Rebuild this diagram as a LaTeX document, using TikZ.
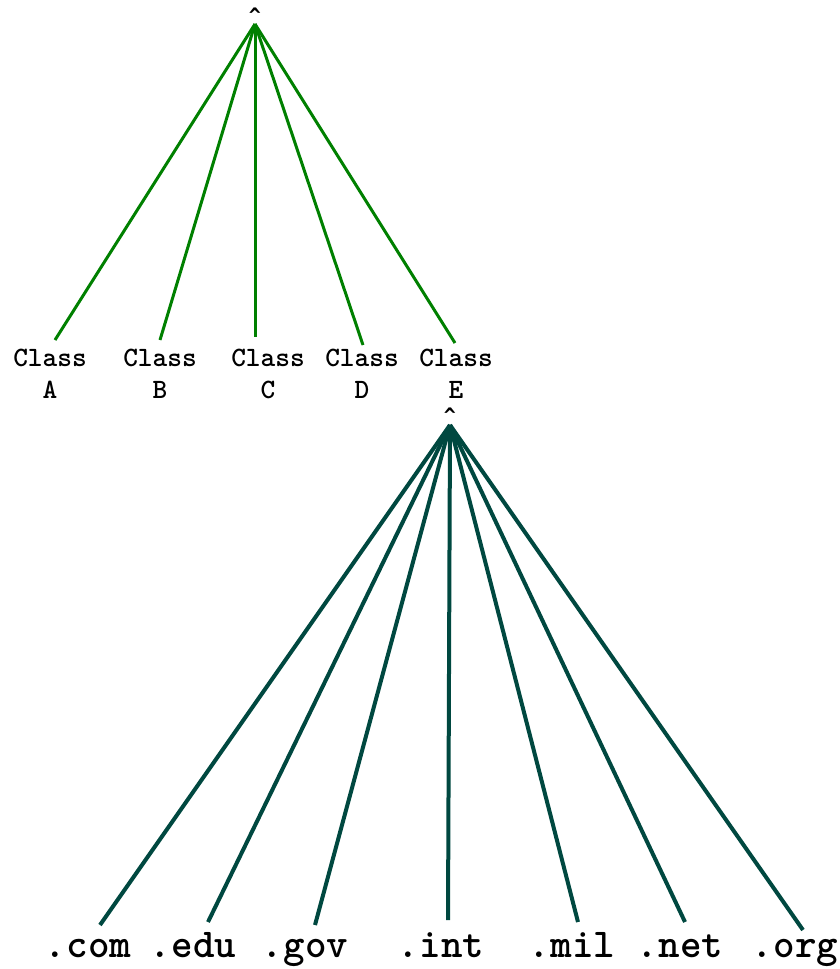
\documentclass[tikz,border=0pt]{standalone}
\usepackage{fontspec}
\setmonofont{Latin Modern Mono Light}
\newfontfamily\caretfont{DejaVu Sans Mono}
\definecolor{topgreen}{RGB}{0,128,0}
\definecolor{teal}{RGB}{0,72,64}
\begin{document}
\begin{tikzpicture}[x=1pt,y=-1pt,
  lbl/.style={font=\ttfamily\bfseries\fontsize{28}{32}\selectfont, inner sep=0pt, align=center},
  dom/.style={font=\ttfamily\bfseries\fontsize{41}{42}\selectfont, inner sep=0pt, anchor=base},
  caret/.style={font=\caretfont\bfseries\fontsize{20}{20}\selectfont, inner sep=0pt, anchor=base},
  gline/.style={topgreen, line width=3pt},
  tline/.style={teal, line width=4pt}]
\useasboundingbox (0,0) rectangle (839,969);
% top tree
\node[caret] (c1) at (255,22) {\symbol{94}};
\coordinate (r1) at (255,24);
\coordinate (ea) at (55,340);
\coordinate (eb) at (160,340);
\coordinate (ec) at (255,337);
\coordinate (ed) at (363,345);
\coordinate (ee) at (455,343);
\foreach \e in {ea,eb,ec,ed,ee} \draw[gline] (r1) -- (\e);
\node[lbl] (ca) at (50,374) {Class\\A};
\node[lbl] (cb) at (160,374) {Class\\B};
\node[lbl] (cc) at (268,374) {Class\\C};
\node[lbl] (cd) at (362,374) {Class\\D};
\node[lbl] (ce) at (456,374) {Class\\E};
% bottom tree
\node[caret] (c2) at (450,422) {\symbol{94}};
\coordinate (r2) at (450,425);
\coordinate (fa) at (100,925);
\coordinate (fb) at (208,922);
\coordinate (fc) at (315,925);
\coordinate (fd) at (448,920);
\coordinate (fe) at (578,922);
\coordinate (ff) at (685,922);
\coordinate (fg) at (803,930);
\foreach \e in {fa,fb,fc,fd,fe,ff,fg} \draw[tline] (r2) -- (\e);
\node[dom] (dcom) at (88,957) {.com};
\node[dom] (dedu) at (193,957) {.edu};
\node[dom] (dgov) at (305,957) {.gov};
\node[dom] (dint) at (441,957) {.int};
\node[dom] (dmil) at (572,957) {.mil};
\node[dom] (dnet) at (680,957) {.net};
\node[dom] (dorg) at (795,957) {.org};
\end{tikzpicture}
\end{document}
